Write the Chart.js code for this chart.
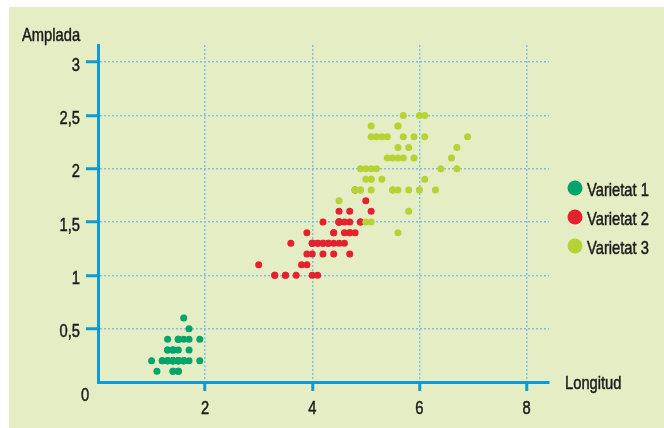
<!DOCTYPE html>
<html>
<head>
<meta charset="utf-8">
<script src="https://cdn.jsdelivr.net/npm/chart.js@4.4.1/dist/chart.umd.min.js"></script>
<style>
  html, body { margin: 0; padding: 0; background: #fff; }
</style>
</head>
<body>
<canvas id="irisChart" width="664" height="428"></canvas>
<script>
// longitud / amplada (petal length / width) per variety
const longitud1 = [1.4,1.4,1.3,1.5,1.4,1.7,1.4,1.5,1.4,1.5,1.5,1.6,1.4,1.1,1.2,1.5,1.3,1.4,1.7,1.5,1.7,1.5,1.0,1.7,1.9,1.6,1.6,1.5,1.4,1.6,1.6,1.5,1.5,1.4,1.5,1.2,1.3,1.4,1.3,1.5,1.3,1.3,1.3,1.6,1.9,1.4,1.6,1.4,1.5,1.4];
const amplada1  = [0.2,0.2,0.2,0.2,0.2,0.4,0.3,0.2,0.2,0.1,0.2,0.2,0.1,0.1,0.2,0.4,0.4,0.3,0.3,0.3,0.2,0.4,0.2,0.5,0.2,0.2,0.4,0.2,0.2,0.2,0.2,0.4,0.1,0.2,0.2,0.2,0.2,0.1,0.2,0.2,0.3,0.3,0.2,0.6,0.4,0.3,0.2,0.2,0.2,0.2];

const longitud2 = [4.7,4.5,4.9,4.0,4.6,4.5,4.7,3.3,4.6,3.9,3.5,4.2,4.0,4.7,3.6,4.4,4.5,4.1,4.5,3.9,4.8,4.0,4.9,4.7,4.3,4.4,4.8,5.0,4.5,3.5,3.8,3.7,3.9,5.1,4.5,4.5,4.7,4.4,4.1,4.0,4.4,4.6,4.0,3.3,4.2,4.2,4.2,4.3,3.0,4.1];
const amplada2  = [1.4,1.5,1.5,1.3,1.5,1.3,1.6,1.0,1.3,1.4,1.0,1.5,1.0,1.4,1.3,1.4,1.5,1.0,1.5,1.1,1.8,1.3,1.5,1.2,1.3,1.4,1.4,1.7,1.5,1.0,1.1,1.0,1.2,1.6,1.5,1.6,1.5,1.3,1.3,1.3,1.2,1.4,1.2,1.0,1.3,1.2,1.3,1.3,1.1,1.3];

const longitud3 = [6.0,5.1,5.9,5.6,5.8,6.6,4.5,6.3,5.8,6.1,5.1,5.3,5.5,5.0,5.1,5.3,5.5,6.7,6.9,5.0,5.7,4.9,6.7,4.9,5.7,6.0,4.8,4.9,5.6,5.8,6.1,6.4,5.6,5.1,5.6,6.1,5.6,5.5,4.8,5.4,5.6,5.1,5.1,5.9,5.7,5.2,5.0,5.2,5.4,5.1];
const amplada3  = [2.5,1.9,2.1,1.8,2.2,2.1,1.7,1.8,1.8,2.5,2.0,1.9,2.1,2.0,2.4,2.3,1.8,2.2,2.3,1.5,2.3,2.0,2.0,1.8,2.1,1.8,1.8,1.8,2.1,1.6,1.9,2.0,2.2,1.5,1.4,2.3,2.4,1.8,1.8,2.1,2.4,2.3,1.9,2.3,2.5,2.3,1.9,2.0,2.3,1.8];

const varietats = ['Varietat 1', 'Varietat 2', 'Varietat 3'];
const xTicks = [2, 4, 6, 8];
const yTicks = [0.5, 1, 1.5, 2, 2.5, 3];

const FONT = "19px 'Liberation Sans', Arial, sans-serif";
const SQUEEZE = 0.775; // condensed look
const TEXT = '#1c1a1b';
const AXIS = '#0f9ad6';
const GRID = '#7cc0ea';
const colors = ['#00a46c', '#e5202f', '#b6d334'];

const toPoints = (xs, ys) => xs.map((x, i) => ({x: x, y: ys[i]}));
const coma = v => String(v).replace('.', ',');

function drawText(ctx, text, x, y, align) {
  ctx.save();
  ctx.translate(x, y);
  ctx.scale(SQUEEZE, 1);
  ctx.font = FONT;
  ctx.fillStyle = TEXT;
  ctx.strokeStyle = TEXT;
  ctx.lineWidth = 0.5;
  ctx.textAlign = align;
  ctx.textBaseline = 'alphabetic';
  ctx.fillText(text, 0, 0);
  ctx.strokeText(text, 0, 0);
  ctx.restore();
}

const panel = {
  id: 'panel',
  beforeDraw(chart) {
    const {ctx} = chart;
    ctx.save();
    ctx.fillStyle = '#e5edc4';
    ctx.fillRect(9, 7, chart.width - 9, chart.height - 7);
    ctx.restore();
  },
  afterDraw(chart) {
    const {ctx, chartArea: {left, right, bottom}} = chart;
    const xs = chart.scales.x, ys = chart.scales.y;
    // etiquetes dels eixos
    xTicks.forEach(v => drawText(ctx, coma(v), xs.getPixelForValue(v), bottom + 32, 'center'));
    yTicks.forEach(v => drawText(ctx, coma(v), left - 18, ys.getPixelForValue(v) + 8.5, 'right'));
    drawText(ctx, '0', left - 13, bottom + 19, 'center');
    drawText(ctx, 'Amplada', 22, 41, 'left');
    drawText(ctx, 'Longitud', right + 16, bottom + 7, 'left');
    // llegenda
    chart.data.datasets.forEach((ds, i) => {
      const cy = 188 + i * 29;
      ctx.save();
      ctx.beginPath();
      ctx.arc(575, cy, 7.5, 0, Math.PI * 2);
      ctx.fillStyle = ds.backgroundColor;
      ctx.fill();
      ctx.restore();
      drawText(ctx, ds.label, 587, cy + 7.5, 'left');
    });
  }
};

const ctx = document.getElementById('irisChart').getContext('2d');

new Chart(ctx, {
  type: 'scatter',
  data: {
    datasets: [
      {label: varietats[0], data: toPoints(longitud1, amplada1), backgroundColor: colors[0], order: 3},
      {label: varietats[1], data: toPoints(longitud2, amplada2), backgroundColor: colors[1], order: 2},
      {label: varietats[2], data: toPoints(longitud3, amplada3), backgroundColor: colors[2], order: 1}
    ]
  },
  options: {
    responsive: false,
    animation: false,
    elements: {
      point: {radius: 3.5, hoverRadius: 3.5, borderWidth: 0}
    },
    layout: {
      padding: {left: 0, top: 45, right: 115, bottom: 0}
    },
    plugins: {
      legend: {display: false},
      tooltip: {enabled: false}
    },
    scales: {
      x: {
        type: 'linear',
        min: 0,
        max: 8.42,
        afterFit: s => { s.height = 46; },
        afterBuildTicks: s => { s.ticks = xTicks.map(v => ({value: v})); },
        border: {display: true, color: AXIS, width: 3, dash: [2, 2]},
        grid: {
          color: GRID,
          lineWidth: 1.5,
          tickColor: AXIS,
          tickWidth: 3,
          tickLength: 9
        },
        ticks: {display: false}
      },
      y: {
        type: 'linear',
        min: 0,
        max: 3.16,
        afterFit: s => { s.width = 98; },
        afterBuildTicks: s => { s.ticks = yTicks.map(v => ({value: v})); },
        border: {display: true, color: AXIS, width: 3, dash: [2, 2]},
        grid: {
          color: GRID,
          lineWidth: 1.5,
          tickColor: AXIS,
          tickWidth: 3,
          tickLength: 12
        },
        ticks: {display: false}
      }
    }
  },
  plugins: [panel]
});
</script>
</body>
</html>
